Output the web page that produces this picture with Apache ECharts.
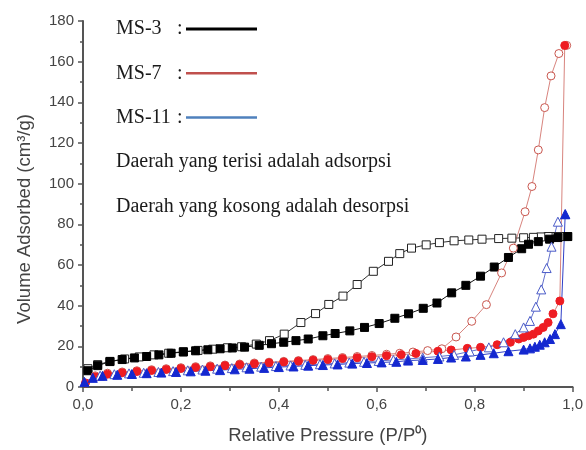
<!DOCTYPE html>
<html>
<head>
<meta charset="utf-8">
<script src="https://cdn.jsdelivr.net/npm/echarts@6/dist/echarts.min.js"></script>
<style>
  html, body { margin: 0; padding: 0; background: #fff; }
  #chart { width: 586px; height: 450px; }
</style>
</head>
<body>
<div id="chart"></div>
<script>
// [P/P0, volume] pairs
const ms3Ads = [[0.01,8],[0.03,10.5],[0.055,12.5],[0.08,13.5],[0.105,14.3],[0.13,15],[0.155,15.8],[0.18,16.6],[0.205,17.2],[0.23,17.8],[0.255,18.3],[0.28,18.8],[0.305,19.2],[0.33,19.6],[0.36,20.5],[0.385,21.3],[0.41,22],[0.435,22.8],[0.46,23.6],[0.49,25.2],[0.515,26.3],[0.545,27.6],[0.575,29.3],[0.605,31.2],[0.637,33.8],[0.665,36],[0.695,38.7],[0.723,41.3],[0.753,46.3],[0.782,50],[0.812,54.5],[0.84,59],[0.869,63.7],[0.896,68],[0.91,70.2],[0.93,71.5],[0.953,72.7],[0.97,73.5],[0.99,74]];
const ms3Des = [[0.99,74],[0.985,74],[0.978,74],[0.97,74],[0.96,74],[0.95,74],[0.935,73.8],[0.92,73.6],[0.9,73.4],[0.876,73.2],[0.849,73],[0.815,72.7],[0.788,72.3],[0.758,71.9],[0.728,71],[0.701,69.9],[0.671,68.3],[0.647,65.6],[0.624,61.8],[0.593,56.9],[0.56,50.4],[0.531,44.7],[0.502,40.6],[0.475,36.1],[0.445,31.7],[0.411,26],[0.381,22.8],[0.354,21.1],[0.324,19.8],[0.295,19.3],[0.265,18.6],[0.235,18],[0.205,17.4],[0.175,16.6],[0.145,15.8],[0.115,14.8],[0.085,13.8],[0.055,12.6],[0.03,11],[0.01,9]];
const ms7Ads = [[0.005,2],[0.025,5],[0.05,6.3],[0.08,7],[0.11,7.6],[0.14,8.1],[0.17,8.6],[0.2,9.1],[0.23,9.6],[0.26,10],[0.29,10.5],[0.32,11],[0.35,11.4],[0.38,11.9],[0.41,12.3],[0.44,12.7],[0.47,13.1],[0.5,13.5],[0.53,14],[0.56,14.4],[0.59,14.9],[0.62,15.4],[0.65,15.9],[0.68,16.5],[0.725,17.6],[0.752,18.2],[0.785,19],[0.812,19.5],[0.846,20.8],[0.873,22],[0.89,23.6],[0.9,24.4],[0.91,25.2],[0.92,26],[0.93,27.6],[0.94,29.3],[0.95,31.7],[0.96,36],[0.974,42.3],[0.984,168]];
const ms7Des = [[0.988,168],[0.972,164],[0.956,153],[0.943,137.4],[0.93,116.6],[0.917,98.6],[0.903,86.2],[0.879,68.3],[0.855,56.1],[0.824,40.5],[0.794,32.3],[0.762,24.6],[0.733,18.8],[0.704,17.9],[0.674,17.2],[0.647,16.6],[0.62,16.1],[0.59,15.5],[0.56,15],[0.53,14.5],[0.5,14],[0.47,13.5],[0.44,13],[0.41,12.6],[0.38,12.2],[0.35,11.8],[0.32,11.3],[0.29,10.8],[0.26,10.4],[0.23,10],[0.2,9.5],[0.17,9],[0.14,8.5],[0.11,8],[0.08,7.4],[0.05,6.8],[0.025,5.5]];
const ms11Ads = [[0.003,2.5],[0.02,4.5],[0.04,5.5],[0.07,6],[0.1,6.4],[0.13,6.8],[0.16,7.1],[0.19,7.4],[0.22,7.7],[0.25,8],[0.28,8.3],[0.31,8.7],[0.34,9],[0.37,9.4],[0.4,9.8],[0.43,10.1],[0.46,10.5],[0.49,10.8],[0.52,11.1],[0.55,11.5],[0.58,11.8],[0.61,12.1],[0.64,12.4],[0.664,13],[0.694,13.3],[0.725,13.8],[0.752,14.5],[0.782,15],[0.812,15.8],[0.839,16.6],[0.869,17.6],[0.9,18.4],[0.913,19],[0.923,19.8],[0.933,20.8],[0.943,22],[0.954,23.6],[0.964,26],[0.976,30.9],[0.985,85]];
const ms11Des = [[0.985,85],[0.97,81.3],[0.957,69],[0.947,58.5],[0.936,48],[0.925,39.5],[0.913,32.5],[0.9,29.3],[0.883,26],[0.859,22],[0.829,19.5],[0.79,17.5],[0.758,15.8],[0.728,15],[0.694,14.4],[0.664,13.8],[0.634,13.3],[0.604,12.8],[0.574,12.4],[0.544,12],[0.514,11.6],[0.484,11.2],[0.454,10.9],[0.424,10.6],[0.394,10.3],[0.364,10],[0.334,9.7],[0.304,9.3],[0.274,9],[0.244,8.6],[0.214,8.2],[0.184,7.8],[0.154,7.4],[0.124,7],[0.094,6.7],[0.064,6.3],[0.035,5.6]];

const legendRows = [
  { name: 'MS-3', color: '#000000' },
  { name: 'MS-7', color: '#c0504d' },
  { name: 'MS-11', color: '#4f81bd' }
];
const noteLines = ['Daerah yang terisi adalah adsorpsi', 'Daerah yang kosong adalah desorpsi'];

const chart = echarts.init(document.getElementById('chart'));

function isoSeries(name, data, symbol, lineColor, fill, border, size) {
  return {
    name: name,
    type: 'line',
    data: data,
    symbol: symbol,
    symbolSize: size,
    showAllSymbol: true,
    lineStyle: { color: lineColor, width: 1 },
    itemStyle: { color: fill, borderColor: border, borderWidth: 1 },
    emphasis: { disabled: true }
  };
}

const serif = '"Liberation Serif", "Times New Roman", serif';
const sans = '"Liberation Sans", Arial, sans-serif';
const graphics = [];
legendRows.forEach((r, i) => {
  const cy = 30 + i * 44.3;
  graphics.push({ type: 'text', left: 116, top: cy - 11, style: { text: r.name, font: '20px ' + serif, fill: '#1a1a1a' } });
  graphics.push({ type: 'text', left: 177, top: cy - 11, style: { text: ':', font: '20px ' + serif, fill: '#1a1a1a' } });
  graphics.push({ type: 'line', shape: { x1: 186, y1: cy - 1, x2: 257, y2: cy - 1 }, style: { stroke: r.color, lineWidth: i === 0 ? 3 : 2.5 } });
});
noteLines.forEach((t, i) => {
  const cy = 163 + i * 45;
  graphics.push({ type: 'text', left: 116, top: cy - 11, style: { text: t, font: '20px ' + serif, fill: '#1a1a1a' } });
});

chart.setOption({
  animation: false,
  backgroundColor: '#fff',
  grid: { left: 83, right: 8, top: 21, bottom: 60, containLabel: false },
  xAxis: {
    type: 'value',
    min: 0, max: 1, interval: 0.2,
    name: 'Relative Pressure (P/P\u2070)',
    nameLocation: 'middle',
    nameGap: 39,
    nameTextStyle: { fontFamily: sans, fontSize: 18.5, color: '#444' },
    axisLine: { lineStyle: { color: '#555', width: 2 } },
    axisTick: { inside: false, length: 5, lineStyle: { color: '#555', width: 1.5 } },
    minorTick: { show: true, splitNumber: 2, length: 4, lineStyle: { color: '#555', width: 1.5 } },
    splitLine: { show: false },
    axisLabel: {
      margin: 10, fontSize: 15, color: '#444', fontFamily: sans,
      formatter: v => v.toFixed(1).replace('.', ',')
    }
  },
  yAxis: {
    type: 'value',
    min: 0, max: 180, interval: 20,
    name: 'Volume Adsorbed (cm\u00b3/g)',
    nameLocation: 'middle',
    nameGap: 49,
    nameTextStyle: { fontFamily: sans, fontSize: 18.5, color: '#444', padding: [0, 30, 0, 0] },
    axisLine: { show: true, lineStyle: { color: '#555', width: 2 } },
    axisTick: { show: true, inside: false, length: 5, lineStyle: { color: '#555', width: 1.5 } },
    minorTick: { show: true, splitNumber: 2, length: 3, lineStyle: { color: '#555', width: 1.5 } },
    splitLine: { show: false },
    axisLabel: { margin: 9, fontSize: 15, color: '#444', fontFamily: sans }
  },
  series: [
    isoSeries('MS-3 desorpsi', ms3Des, 'rect', '#333', '#fff', '#222', 8),
    isoSeries('MS-3 adsorpsi', ms3Ads, 'rect', '#111', '#000', '#000', 8),
    isoSeries('MS-7 desorpsi', ms7Des, 'circle', '#d8847e', '#fff', '#c9574f', 8),
    isoSeries('MS-7 adsorpsi', ms7Ads, 'circle', '#d8847e', '#ee1c22', '#ee1c22', 8),
    isoSeries('MS-11 desorpsi', ms11Des, 'triangle', '#6270cc', '#fff', '#4a5bc8', 9),
    isoSeries('MS-11 adsorpsi', ms11Ads, 'triangle', '#3040c8', '#1428d0', '#1428d0', 9)
  ],
  graphic: graphics
});
</script>
</body>
</html>
